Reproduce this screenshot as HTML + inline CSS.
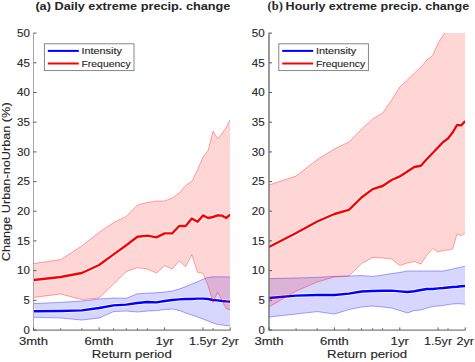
<!DOCTYPE html>
<html><head><meta charset="utf-8"><style>
html,body{margin:0;padding:0;background:#fff;width:475px;height:362px;overflow:hidden;font-family:"Liberation Sans",sans-serif;}
svg{display:block;}
</style></head><body>
<svg width="475" height="362" viewBox="0 0 475 362">
<rect width="475" height="362" fill="#ffffff"/>
<clipPath id="cL"><rect x="33.5" y="33.1" width="196.7" height="296.9"/></clipPath>
<g clip-path="url(#cL)">
<polygon points="33.5,303.6 60.7,302.4 81.8,301.0 99.1,299.0 113.6,298.0 126.3,298.3 137.4,293.8 147.4,293.2 156.4,292.8 164.6,292.0 172.2,291.0 179.2,289.0 185.7,286.6 191.8,284.0 197.6,281.8 203.0,279.2 208.1,277.4 213.0,276.8 217.6,276.8 222.0,276.8 226.2,277.0 230.2,277.0 230.2,326.0 226.2,325.5 222.0,325.0 217.6,324.5 213.0,323.0 208.1,321.0 203.0,319.0 197.6,317.0 191.8,315.0 185.7,313.0 179.2,310.4 172.2,309.0 164.6,309.6 156.4,310.6 147.4,311.0 137.4,312.0 126.3,311.0 113.6,311.6 99.1,318.0 81.8,320.0 60.7,318.0 33.5,317.3" fill="#0000ff" fill-opacity="0.16" stroke="none"/>
<polyline points="33.5,303.6 60.7,302.4 81.8,301.0 99.1,299.0 113.6,298.0 126.3,298.3 137.4,293.8 147.4,293.2 156.4,292.8 164.6,292.0 172.2,291.0 179.2,289.0 185.7,286.6 191.8,284.0 197.6,281.8 203.0,279.2 208.1,277.4 213.0,276.8 217.6,276.8 222.0,276.8 226.2,277.0 230.2,277.0" fill="none" stroke="#0000ff" stroke-opacity="0.42" stroke-width="0.85"/>
<polyline points="33.5,317.3 60.7,318.0 81.8,320.0 99.1,318.0 113.6,311.6 126.3,311.0 137.4,312.0 147.4,311.0 156.4,310.6 164.6,309.6 172.2,309.0 179.2,310.4 185.7,313.0 191.8,315.0 197.6,317.0 203.0,319.0 208.1,321.0 213.0,323.0 217.6,324.5 222.0,325.0 226.2,325.5 230.2,326.0" fill="none" stroke="#0000ff" stroke-opacity="0.42" stroke-width="0.85"/>
<polyline points="33.5,311.3 60.7,311.0 81.8,310.4 99.1,308.0 113.6,305.4 126.3,304.6 137.4,303.0 147.4,302.0 156.4,302.4 164.6,301.0 172.2,300.0 179.2,299.4 185.7,299.0 191.8,299.0 197.6,298.6 203.0,298.6 208.1,299.0 213.0,300.0 217.6,300.4 222.0,301.0 226.2,301.4 230.2,301.6" fill="none" stroke="#ffffff" stroke-opacity="0.75" stroke-width="4.4" stroke-linejoin="round"/>
<polyline points="33.5,311.3 60.7,311.0 81.8,310.4 99.1,308.0 113.6,305.4 126.3,304.6 137.4,303.0 147.4,302.0 156.4,302.4 164.6,301.0 172.2,300.0 179.2,299.4 185.7,299.0 191.8,299.0 197.6,298.6 203.0,298.6 208.1,299.0 213.0,300.0 217.6,300.4 222.0,301.0 226.2,301.4 230.2,301.6" fill="none" stroke="#0000ff" stroke-width="2.4" stroke-linejoin="round"/>
<polygon points="33.5,263.6 60.7,259.6 81.8,246.0 99.1,232.4 113.6,222.5 126.3,216.4 137.4,205.0 147.4,202.4 156.4,201.0 164.6,201.0 172.2,198.0 179.2,193.0 185.7,185.5 191.8,181.5 197.6,169.7 203.0,157.0 208.1,150.5 213.0,131.2 217.6,138.6 222.0,133.6 226.2,127.4 230.2,119.5 230.2,309.8 226.2,308.6 222.0,300.4 217.6,292.2 213.0,302.5 208.1,285.6 203.0,273.3 197.6,272.3 191.8,254.7 185.7,266.6 179.2,261.0 172.2,269.0 164.6,265.6 156.4,273.0 147.4,269.0 137.4,267.6 126.3,271.6 113.6,284.0 99.1,298.0 81.8,299.6 60.7,294.0 33.5,297.4" fill="#ff0000" fill-opacity="0.16" stroke="none"/>
<polyline points="33.5,263.6 60.7,259.6 81.8,246.0 99.1,232.4 113.6,222.5 126.3,216.4 137.4,205.0 147.4,202.4 156.4,201.0 164.6,201.0 172.2,198.0 179.2,193.0 185.7,185.5 191.8,181.5 197.6,169.7 203.0,157.0 208.1,150.5 213.0,131.2 217.6,138.6 222.0,133.6 226.2,127.4 230.2,119.5" fill="none" stroke="#ff0000" stroke-opacity="0.42" stroke-width="0.85"/>
<polyline points="33.5,297.4 60.7,294.0 81.8,299.6 99.1,298.0 113.6,284.0 126.3,271.6 137.4,267.6 147.4,269.0 156.4,273.0 164.6,265.6 172.2,269.0 179.2,261.0 185.7,266.6 191.8,254.7 197.6,272.3 203.0,273.3 208.1,285.6 213.0,302.5 217.6,292.2 222.0,300.4 226.2,308.6 230.2,309.8" fill="none" stroke="#ff0000" stroke-opacity="0.42" stroke-width="0.85"/>
<polyline points="33.5,280.0 60.7,277.0 81.8,273.0 99.1,265.0 113.6,254.4 126.3,245.2 137.4,236.8 147.4,235.6 156.4,237.4 164.6,233.4 172.2,233.4 179.2,226.0 185.7,226.0 191.8,218.5 197.6,221.8 203.0,215.4 208.1,218.0 213.0,217.0 217.6,215.3 222.0,215.6 226.2,218.0 230.2,214.6" fill="none" stroke="#ffffff" stroke-opacity="0.75" stroke-width="4.4" stroke-linejoin="round"/>
<polyline points="33.5,280.0 60.7,277.0 81.8,273.0 99.1,265.0 113.6,254.4 126.3,245.2 137.4,236.8 147.4,235.6 156.4,237.4 164.6,233.4 172.2,233.4 179.2,226.0 185.7,226.0 191.8,218.5 197.6,221.8 203.0,215.4 208.1,218.0 213.0,217.0 217.6,215.3 222.0,215.6 226.2,218.0 230.2,214.6" fill="none" stroke="#ff0000" stroke-width="2.4" stroke-linejoin="round"/>
</g>
<line x1="33.5" y1="32.800000000000004" x2="33.5" y2="330.2" stroke="#a8a8a8" stroke-width="1.0"/>
<line x1="33.0" y1="330.1" x2="230.7" y2="330.1" stroke="#7c7c7c" stroke-width="1.1"/>
<line x1="33.5" y1="330.0" x2="36.5" y2="330.0" stroke="#5a5a5a" stroke-width="1"/>
<line x1="33.5" y1="300.3" x2="36.5" y2="300.3" stroke="#5a5a5a" stroke-width="1"/>
<line x1="33.5" y1="270.6" x2="36.5" y2="270.6" stroke="#5a5a5a" stroke-width="1"/>
<line x1="33.5" y1="240.9" x2="36.5" y2="240.9" stroke="#5a5a5a" stroke-width="1"/>
<line x1="33.5" y1="211.2" x2="36.5" y2="211.2" stroke="#5a5a5a" stroke-width="1"/>
<line x1="33.5" y1="181.6" x2="36.5" y2="181.6" stroke="#5a5a5a" stroke-width="1"/>
<line x1="33.5" y1="151.9" x2="36.5" y2="151.9" stroke="#5a5a5a" stroke-width="1"/>
<line x1="33.5" y1="122.2" x2="36.5" y2="122.2" stroke="#5a5a5a" stroke-width="1"/>
<line x1="33.5" y1="92.5" x2="36.5" y2="92.5" stroke="#5a5a5a" stroke-width="1"/>
<line x1="33.5" y1="62.8" x2="36.5" y2="62.8" stroke="#5a5a5a" stroke-width="1"/>
<line x1="33.5" y1="33.1" x2="36.5" y2="33.1" stroke="#5a5a5a" stroke-width="1"/>
<line x1="33.5" y1="329.9" x2="33.5" y2="327.4" stroke="#5a5a5a" stroke-width="1"/>
<line x1="60.7" y1="329.9" x2="60.7" y2="328.29999999999995" stroke="#5a5a5a" stroke-width="1"/>
<line x1="81.8" y1="329.9" x2="81.8" y2="328.29999999999995" stroke="#5a5a5a" stroke-width="1"/>
<line x1="99.1" y1="329.9" x2="99.1" y2="327.4" stroke="#5a5a5a" stroke-width="1"/>
<line x1="113.6" y1="329.9" x2="113.6" y2="328.29999999999995" stroke="#5a5a5a" stroke-width="1"/>
<line x1="126.3" y1="329.9" x2="126.3" y2="328.29999999999995" stroke="#5a5a5a" stroke-width="1"/>
<line x1="137.4" y1="329.9" x2="137.4" y2="328.29999999999995" stroke="#5a5a5a" stroke-width="1"/>
<line x1="147.4" y1="329.9" x2="147.4" y2="328.29999999999995" stroke="#5a5a5a" stroke-width="1"/>
<line x1="164.6" y1="329.9" x2="164.6" y2="327.4" stroke="#5a5a5a" stroke-width="1"/>
<line x1="203.0" y1="329.9" x2="203.0" y2="327.4" stroke="#5a5a5a" stroke-width="1"/>
<line x1="213.0" y1="329.9" x2="213.0" y2="328.29999999999995" stroke="#5a5a5a" stroke-width="1"/>
<line x1="230.2" y1="329.9" x2="230.2" y2="327.4" stroke="#5a5a5a" stroke-width="1"/>
<clipPath id="cR"><rect x="269.0" y="33.1" width="196.2" height="296.9"/></clipPath>
<g clip-path="url(#cR)">
<polygon points="269.0,278.6 296.1,278.0 317.2,277.4 334.4,276.4 348.9,276.0 361.5,275.6 372.7,276.4 382.6,275.0 391.6,273.6 399.8,272.5 407.4,271.0 414.3,271.0 420.9,271.0 426.9,271.0 432.7,271.0 438.1,271.0 443.2,271.0 448.0,270.0 452.6,269.0 457.0,268.0 461.2,267.0 465.2,266.4 465.2,304.3 461.2,303.8 457.0,303.7 452.6,304.0 448.0,304.5 443.2,305.5 438.1,306.0 432.7,306.5 426.9,308.0 420.9,310.0 414.3,310.5 407.4,313.0 399.8,310.5 391.6,308.0 382.6,307.0 372.7,306.0 361.5,307.0 348.9,309.6 334.4,314.0 317.2,311.6 296.1,314.0 269.0,317.0" fill="#0000ff" fill-opacity="0.16" stroke="none"/>
<polyline points="269.0,278.6 296.1,278.0 317.2,277.4 334.4,276.4 348.9,276.0 361.5,275.6 372.7,276.4 382.6,275.0 391.6,273.6 399.8,272.5 407.4,271.0 414.3,271.0 420.9,271.0 426.9,271.0 432.7,271.0 438.1,271.0 443.2,271.0 448.0,270.0 452.6,269.0 457.0,268.0 461.2,267.0 465.2,266.4" fill="none" stroke="#0000ff" stroke-opacity="0.42" stroke-width="0.85"/>
<polyline points="269.0,317.0 296.1,314.0 317.2,311.6 334.4,314.0 348.9,309.6 361.5,307.0 372.7,306.0 382.6,307.0 391.6,308.0 399.8,310.5 407.4,313.0 414.3,310.5 420.9,310.0 426.9,308.0 432.7,306.5 438.1,306.0 443.2,305.5 448.0,304.5 452.6,304.0 457.0,303.7 461.2,303.8 465.2,304.3" fill="none" stroke="#0000ff" stroke-opacity="0.42" stroke-width="0.85"/>
<polyline points="269.0,298.0 296.1,295.6 317.2,295.0 334.4,295.0 348.9,293.6 361.5,291.5 372.7,291.0 382.6,290.8 391.6,290.6 399.8,291.4 407.4,292.0 414.3,291.2 420.9,290.0 426.9,289.0 432.7,289.0 438.1,288.4 443.2,288.0 448.0,287.5 452.6,287.0 457.0,286.7 461.2,286.3 465.2,286.0" fill="none" stroke="#ffffff" stroke-opacity="0.75" stroke-width="4.4" stroke-linejoin="round"/>
<polyline points="269.0,298.0 296.1,295.6 317.2,295.0 334.4,295.0 348.9,293.6 361.5,291.5 372.7,291.0 382.6,290.8 391.6,290.6 399.8,291.4 407.4,292.0 414.3,291.2 420.9,290.0 426.9,289.0 432.7,289.0 438.1,288.4 443.2,288.0 448.0,287.5 452.6,287.0 457.0,286.7 461.2,286.3 465.2,286.0" fill="none" stroke="#0000ff" stroke-width="2.4" stroke-linejoin="round"/>
<polygon points="269.0,185.0 296.1,176.0 317.2,159.6 334.4,149.0 348.9,142.0 361.5,129.0 372.7,119.0 382.6,113.0 391.6,100.2 399.8,87.0 407.4,80.0 414.3,73.0 420.9,67.0 426.9,60.0 432.7,55.6 438.1,43.0 443.2,35.5 448.0,25.0 452.6,20.0 457.0,18.0 461.2,16.0 465.2,14.0 465.2,233.0 461.2,235.7 457.0,234.0 452.6,249.0 448.0,250.0 443.2,250.4 438.1,252.0 432.7,248.5 426.9,255.0 420.9,264.0 414.3,261.6 407.4,263.0 399.8,265.6 391.6,259.0 382.6,258.0 372.7,257.4 361.5,263.6 348.9,276.0 334.4,277.0 317.2,282.0 296.1,291.0 269.0,307.0" fill="#ff0000" fill-opacity="0.16" stroke="none"/>
<polyline points="269.0,185.0 296.1,176.0 317.2,159.6 334.4,149.0 348.9,142.0 361.5,129.0 372.7,119.0 382.6,113.0 391.6,100.2 399.8,87.0 407.4,80.0 414.3,73.0 420.9,67.0 426.9,60.0 432.7,55.6 438.1,43.0 443.2,35.5 448.0,25.0 452.6,20.0 457.0,18.0 461.2,16.0 465.2,14.0" fill="none" stroke="#ff0000" stroke-opacity="0.42" stroke-width="0.85"/>
<polyline points="269.0,307.0 296.1,291.0 317.2,282.0 334.4,277.0 348.9,276.0 361.5,263.6 372.7,257.4 382.6,258.0 391.6,259.0 399.8,265.6 407.4,263.0 414.3,261.6 420.9,264.0 426.9,255.0 432.7,248.5 438.1,252.0 443.2,250.4 448.0,250.0 452.6,249.0 457.0,234.0 461.2,235.7 465.2,233.0" fill="none" stroke="#ff0000" stroke-opacity="0.42" stroke-width="0.85"/>
<polyline points="269.0,247.0 296.1,233.0 317.2,221.5 334.4,214.0 348.9,209.8 361.5,197.5 372.7,189.1 382.6,186.0 391.6,180.0 399.8,176.4 407.4,171.4 414.3,167.0 420.9,165.7 426.9,159.0 432.7,153.0 438.1,147.4 443.2,142.0 448.0,138.6 452.6,132.6 457.0,125.0 461.2,125.4 465.2,121.0" fill="none" stroke="#ffffff" stroke-opacity="0.75" stroke-width="4.4" stroke-linejoin="round"/>
<polyline points="269.0,247.0 296.1,233.0 317.2,221.5 334.4,214.0 348.9,209.8 361.5,197.5 372.7,189.1 382.6,186.0 391.6,180.0 399.8,176.4 407.4,171.4 414.3,167.0 420.9,165.7 426.9,159.0 432.7,153.0 438.1,147.4 443.2,142.0 448.0,138.6 452.6,132.6 457.0,125.0 461.2,125.4 465.2,121.0" fill="none" stroke="#ff0000" stroke-width="2.4" stroke-linejoin="round"/>
</g>
<line x1="269.0" y1="32.800000000000004" x2="269.0" y2="330.2" stroke="#707070" stroke-width="1.4"/>
<line x1="268.5" y1="330.1" x2="465.7" y2="330.1" stroke="#7c7c7c" stroke-width="1.1"/>
<line x1="269.0" y1="330.0" x2="272.0" y2="330.0" stroke="#5a5a5a" stroke-width="1"/>
<line x1="269.0" y1="300.3" x2="272.0" y2="300.3" stroke="#5a5a5a" stroke-width="1"/>
<line x1="269.0" y1="270.6" x2="272.0" y2="270.6" stroke="#5a5a5a" stroke-width="1"/>
<line x1="269.0" y1="240.9" x2="272.0" y2="240.9" stroke="#5a5a5a" stroke-width="1"/>
<line x1="269.0" y1="211.2" x2="272.0" y2="211.2" stroke="#5a5a5a" stroke-width="1"/>
<line x1="269.0" y1="181.6" x2="272.0" y2="181.6" stroke="#5a5a5a" stroke-width="1"/>
<line x1="269.0" y1="151.9" x2="272.0" y2="151.9" stroke="#5a5a5a" stroke-width="1"/>
<line x1="269.0" y1="122.2" x2="272.0" y2="122.2" stroke="#5a5a5a" stroke-width="1"/>
<line x1="269.0" y1="92.5" x2="272.0" y2="92.5" stroke="#5a5a5a" stroke-width="1"/>
<line x1="269.0" y1="62.8" x2="272.0" y2="62.8" stroke="#5a5a5a" stroke-width="1"/>
<line x1="269.0" y1="33.1" x2="272.0" y2="33.1" stroke="#5a5a5a" stroke-width="1"/>
<line x1="269.0" y1="329.9" x2="269.0" y2="327.4" stroke="#5a5a5a" stroke-width="1"/>
<line x1="296.1" y1="329.9" x2="296.1" y2="328.29999999999995" stroke="#5a5a5a" stroke-width="1"/>
<line x1="317.2" y1="329.9" x2="317.2" y2="328.29999999999995" stroke="#5a5a5a" stroke-width="1"/>
<line x1="334.4" y1="329.9" x2="334.4" y2="327.4" stroke="#5a5a5a" stroke-width="1"/>
<line x1="348.9" y1="329.9" x2="348.9" y2="328.29999999999995" stroke="#5a5a5a" stroke-width="1"/>
<line x1="361.5" y1="329.9" x2="361.5" y2="328.29999999999995" stroke="#5a5a5a" stroke-width="1"/>
<line x1="372.7" y1="329.9" x2="372.7" y2="328.29999999999995" stroke="#5a5a5a" stroke-width="1"/>
<line x1="382.6" y1="329.9" x2="382.6" y2="328.29999999999995" stroke="#5a5a5a" stroke-width="1"/>
<line x1="399.8" y1="329.9" x2="399.8" y2="327.4" stroke="#5a5a5a" stroke-width="1"/>
<line x1="438.1" y1="329.9" x2="438.1" y2="327.4" stroke="#5a5a5a" stroke-width="1"/>
<line x1="448.0" y1="329.9" x2="448.0" y2="328.29999999999995" stroke="#5a5a5a" stroke-width="1"/>
<line x1="465.2" y1="329.9" x2="465.2" y2="327.4" stroke="#5a5a5a" stroke-width="1"/>
<rect x="44.4" y="43.8" width="89.6" height="26.8" fill="#ffffff" stroke="#7a7a7a" stroke-width="0.9"/>
<line x1="47.8" y1="50.9" x2="78.8" y2="50.9" stroke="#0000ff" stroke-width="2"/>
<line x1="47.8" y1="63.5" x2="78.8" y2="63.5" stroke="#ff0000" stroke-width="2"/>
<text x="81.5" y="54.1" font-family="&quot;Liberation Sans&quot;, sans-serif" font-size="9.4" font-weight="normal" text-anchor="start" fill="#262626" stroke="#262626" stroke-width="0.12" textLength="40.4" lengthAdjust="spacingAndGlyphs">Intensity</text>
<text x="81.5" y="66.6" font-family="&quot;Liberation Sans&quot;, sans-serif" font-size="9.4" font-weight="normal" text-anchor="start" fill="#262626" stroke="#262626" stroke-width="0.12" textLength="49.2" lengthAdjust="spacingAndGlyphs">Frequency</text>
<rect x="278.8" y="43.8" width="89.6" height="26.8" fill="#ffffff" stroke="#7a7a7a" stroke-width="0.9"/>
<line x1="282.2" y1="50.9" x2="313.2" y2="50.9" stroke="#0000ff" stroke-width="2"/>
<line x1="282.2" y1="63.5" x2="313.2" y2="63.5" stroke="#ff0000" stroke-width="2"/>
<text x="315.90000000000003" y="54.1" font-family="&quot;Liberation Sans&quot;, sans-serif" font-size="9.4" font-weight="normal" text-anchor="start" fill="#262626" stroke="#262626" stroke-width="0.12" textLength="40.4" lengthAdjust="spacingAndGlyphs">Intensity</text>
<text x="315.90000000000003" y="66.6" font-family="&quot;Liberation Sans&quot;, sans-serif" font-size="9.4" font-weight="normal" text-anchor="start" fill="#262626" stroke="#262626" stroke-width="0.12" textLength="49.2" lengthAdjust="spacingAndGlyphs">Frequency</text>
<text x="29.9" y="333.8" font-family="&quot;Liberation Sans&quot;, sans-serif" font-size="10.5" font-weight="normal" text-anchor="end" fill="#262626" stroke="#262626" stroke-width="0.12" textLength="6.3" lengthAdjust="spacingAndGlyphs">0</text>
<text x="29.9" y="304.11" font-family="&quot;Liberation Sans&quot;, sans-serif" font-size="10.5" font-weight="normal" text-anchor="end" fill="#262626" stroke="#262626" stroke-width="0.12" textLength="6.3" lengthAdjust="spacingAndGlyphs">5</text>
<text x="29.9" y="274.42" font-family="&quot;Liberation Sans&quot;, sans-serif" font-size="10.5" font-weight="normal" text-anchor="end" fill="#262626" stroke="#262626" stroke-width="0.12" textLength="12.9" lengthAdjust="spacingAndGlyphs">10</text>
<text x="29.9" y="244.73000000000002" font-family="&quot;Liberation Sans&quot;, sans-serif" font-size="10.5" font-weight="normal" text-anchor="end" fill="#262626" stroke="#262626" stroke-width="0.12" textLength="12.9" lengthAdjust="spacingAndGlyphs">15</text>
<text x="29.9" y="215.04000000000002" font-family="&quot;Liberation Sans&quot;, sans-serif" font-size="10.5" font-weight="normal" text-anchor="end" fill="#262626" stroke="#262626" stroke-width="0.12" textLength="12.9" lengthAdjust="spacingAndGlyphs">20</text>
<text x="29.9" y="185.35000000000002" font-family="&quot;Liberation Sans&quot;, sans-serif" font-size="10.5" font-weight="normal" text-anchor="end" fill="#262626" stroke="#262626" stroke-width="0.12" textLength="12.9" lengthAdjust="spacingAndGlyphs">25</text>
<text x="29.9" y="155.66000000000003" font-family="&quot;Liberation Sans&quot;, sans-serif" font-size="10.5" font-weight="normal" text-anchor="end" fill="#262626" stroke="#262626" stroke-width="0.12" textLength="12.9" lengthAdjust="spacingAndGlyphs">30</text>
<text x="29.9" y="125.96999999999998" font-family="&quot;Liberation Sans&quot;, sans-serif" font-size="10.5" font-weight="normal" text-anchor="end" fill="#262626" stroke="#262626" stroke-width="0.12" textLength="12.9" lengthAdjust="spacingAndGlyphs">35</text>
<text x="29.9" y="96.27999999999999" font-family="&quot;Liberation Sans&quot;, sans-serif" font-size="10.5" font-weight="normal" text-anchor="end" fill="#262626" stroke="#262626" stroke-width="0.12" textLength="12.9" lengthAdjust="spacingAndGlyphs">40</text>
<text x="29.9" y="66.59000000000002" font-family="&quot;Liberation Sans&quot;, sans-serif" font-size="10.5" font-weight="normal" text-anchor="end" fill="#262626" stroke="#262626" stroke-width="0.12" textLength="12.9" lengthAdjust="spacingAndGlyphs">45</text>
<text x="29.9" y="36.90000000000002" font-family="&quot;Liberation Sans&quot;, sans-serif" font-size="10.5" font-weight="normal" text-anchor="end" fill="#262626" stroke="#262626" stroke-width="0.12" textLength="12.9" lengthAdjust="spacingAndGlyphs">50</text>
<text x="264.7" y="333.8" font-family="&quot;Liberation Sans&quot;, sans-serif" font-size="10.5" font-weight="normal" text-anchor="end" fill="#262626" stroke="#262626" stroke-width="0.12" textLength="6.3" lengthAdjust="spacingAndGlyphs">0</text>
<text x="264.7" y="304.11" font-family="&quot;Liberation Sans&quot;, sans-serif" font-size="10.5" font-weight="normal" text-anchor="end" fill="#262626" stroke="#262626" stroke-width="0.12" textLength="6.3" lengthAdjust="spacingAndGlyphs">5</text>
<text x="264.7" y="274.42" font-family="&quot;Liberation Sans&quot;, sans-serif" font-size="10.5" font-weight="normal" text-anchor="end" fill="#262626" stroke="#262626" stroke-width="0.12" textLength="12.9" lengthAdjust="spacingAndGlyphs">10</text>
<text x="264.7" y="244.73000000000002" font-family="&quot;Liberation Sans&quot;, sans-serif" font-size="10.5" font-weight="normal" text-anchor="end" fill="#262626" stroke="#262626" stroke-width="0.12" textLength="12.9" lengthAdjust="spacingAndGlyphs">15</text>
<text x="264.7" y="215.04000000000002" font-family="&quot;Liberation Sans&quot;, sans-serif" font-size="10.5" font-weight="normal" text-anchor="end" fill="#262626" stroke="#262626" stroke-width="0.12" textLength="12.9" lengthAdjust="spacingAndGlyphs">20</text>
<text x="264.7" y="185.35000000000002" font-family="&quot;Liberation Sans&quot;, sans-serif" font-size="10.5" font-weight="normal" text-anchor="end" fill="#262626" stroke="#262626" stroke-width="0.12" textLength="12.9" lengthAdjust="spacingAndGlyphs">25</text>
<text x="264.7" y="155.66000000000003" font-family="&quot;Liberation Sans&quot;, sans-serif" font-size="10.5" font-weight="normal" text-anchor="end" fill="#262626" stroke="#262626" stroke-width="0.12" textLength="12.9" lengthAdjust="spacingAndGlyphs">30</text>
<text x="264.7" y="125.96999999999998" font-family="&quot;Liberation Sans&quot;, sans-serif" font-size="10.5" font-weight="normal" text-anchor="end" fill="#262626" stroke="#262626" stroke-width="0.12" textLength="12.9" lengthAdjust="spacingAndGlyphs">35</text>
<text x="264.7" y="96.27999999999999" font-family="&quot;Liberation Sans&quot;, sans-serif" font-size="10.5" font-weight="normal" text-anchor="end" fill="#262626" stroke="#262626" stroke-width="0.12" textLength="12.9" lengthAdjust="spacingAndGlyphs">40</text>
<text x="264.7" y="66.59000000000002" font-family="&quot;Liberation Sans&quot;, sans-serif" font-size="10.5" font-weight="normal" text-anchor="end" fill="#262626" stroke="#262626" stroke-width="0.12" textLength="12.9" lengthAdjust="spacingAndGlyphs">45</text>
<text x="264.7" y="36.90000000000002" font-family="&quot;Liberation Sans&quot;, sans-serif" font-size="10.5" font-weight="normal" text-anchor="end" fill="#262626" stroke="#262626" stroke-width="0.12" textLength="12.9" lengthAdjust="spacingAndGlyphs">50</text>
<text x="33.5" y="344.9" font-family="&quot;Liberation Sans&quot;, sans-serif" font-size="10.4" font-weight="normal" text-anchor="middle" fill="#262626" stroke="#262626" stroke-width="0.12" textLength="29.0" lengthAdjust="spacingAndGlyphs">3mth</text>
<text x="99.1" y="344.9" font-family="&quot;Liberation Sans&quot;, sans-serif" font-size="10.4" font-weight="normal" text-anchor="middle" fill="#262626" stroke="#262626" stroke-width="0.12" textLength="29.0" lengthAdjust="spacingAndGlyphs">6mth</text>
<text x="164.6" y="344.9" font-family="&quot;Liberation Sans&quot;, sans-serif" font-size="10.4" font-weight="normal" text-anchor="middle" fill="#262626" stroke="#262626" stroke-width="0.12" textLength="18.4" lengthAdjust="spacingAndGlyphs">1yr</text>
<text x="203.0" y="344.9" font-family="&quot;Liberation Sans&quot;, sans-serif" font-size="10.4" font-weight="normal" text-anchor="middle" fill="#262626" stroke="#262626" stroke-width="0.12" textLength="28.0" lengthAdjust="spacingAndGlyphs">1.5yr</text>
<text x="230.2" y="344.9" font-family="&quot;Liberation Sans&quot;, sans-serif" font-size="10.4" font-weight="normal" text-anchor="middle" fill="#262626" stroke="#262626" stroke-width="0.12" textLength="17.4" lengthAdjust="spacingAndGlyphs">2yr</text>
<text x="131.8" y="358.0" font-family="&quot;Liberation Sans&quot;, sans-serif" font-size="10.9" font-weight="normal" text-anchor="middle" fill="#262626" stroke="#262626" stroke-width="0.12" textLength="80.0" lengthAdjust="spacingAndGlyphs">Return period</text>
<text x="269.0" y="344.9" font-family="&quot;Liberation Sans&quot;, sans-serif" font-size="10.4" font-weight="normal" text-anchor="middle" fill="#262626" stroke="#262626" stroke-width="0.12" textLength="29.0" lengthAdjust="spacingAndGlyphs">3mth</text>
<text x="334.4" y="344.9" font-family="&quot;Liberation Sans&quot;, sans-serif" font-size="10.4" font-weight="normal" text-anchor="middle" fill="#262626" stroke="#262626" stroke-width="0.12" textLength="29.0" lengthAdjust="spacingAndGlyphs">6mth</text>
<text x="399.8" y="344.9" font-family="&quot;Liberation Sans&quot;, sans-serif" font-size="10.4" font-weight="normal" text-anchor="middle" fill="#262626" stroke="#262626" stroke-width="0.12" textLength="18.4" lengthAdjust="spacingAndGlyphs">1yr</text>
<text x="438.1" y="344.9" font-family="&quot;Liberation Sans&quot;, sans-serif" font-size="10.4" font-weight="normal" text-anchor="middle" fill="#262626" stroke="#262626" stroke-width="0.12" textLength="28.0" lengthAdjust="spacingAndGlyphs">1.5yr</text>
<text x="465.2" y="344.9" font-family="&quot;Liberation Sans&quot;, sans-serif" font-size="10.4" font-weight="normal" text-anchor="middle" fill="#262626" stroke="#262626" stroke-width="0.12" textLength="17.4" lengthAdjust="spacingAndGlyphs">2yr</text>
<text x="367.1" y="358.0" font-family="&quot;Liberation Sans&quot;, sans-serif" font-size="10.9" font-weight="normal" text-anchor="middle" fill="#262626" stroke="#262626" stroke-width="0.12" textLength="80.0" lengthAdjust="spacingAndGlyphs">Return period</text>
<text x="35.4" y="10.2" font-family="&quot;Liberation Sans&quot;, sans-serif" font-size="11" font-weight="bold" text-anchor="start" fill="#262626" textLength="195.0" lengthAdjust="spacingAndGlyphs">(a) Daily extreme precip. change</text>
<text x="267.6" y="10.2" font-family="&quot;Liberation Serif&quot;, serif" font-size="11.5" font-weight="bold" text-anchor="start" fill="#262626" textLength="15.2" lengthAdjust="spacingAndGlyphs">(b)</text>
<text x="285.6" y="10.2" font-family="&quot;Liberation Sans&quot;, sans-serif" font-size="11" font-weight="bold" text-anchor="start" fill="#262626" textLength="183.6" lengthAdjust="spacingAndGlyphs">Hourly extreme precip. change</text>
<text transform="translate(10.0,181.8) rotate(-90)" x="0" y="0" font-family="&quot;Liberation Sans&quot;, sans-serif" font-size="10.8" text-anchor="middle" fill="#262626" stroke="#262626" stroke-width="0.12" textLength="158.8" lengthAdjust="spacingAndGlyphs">Change Urban-noUrban (%)</text>
</svg>
</body></html>
